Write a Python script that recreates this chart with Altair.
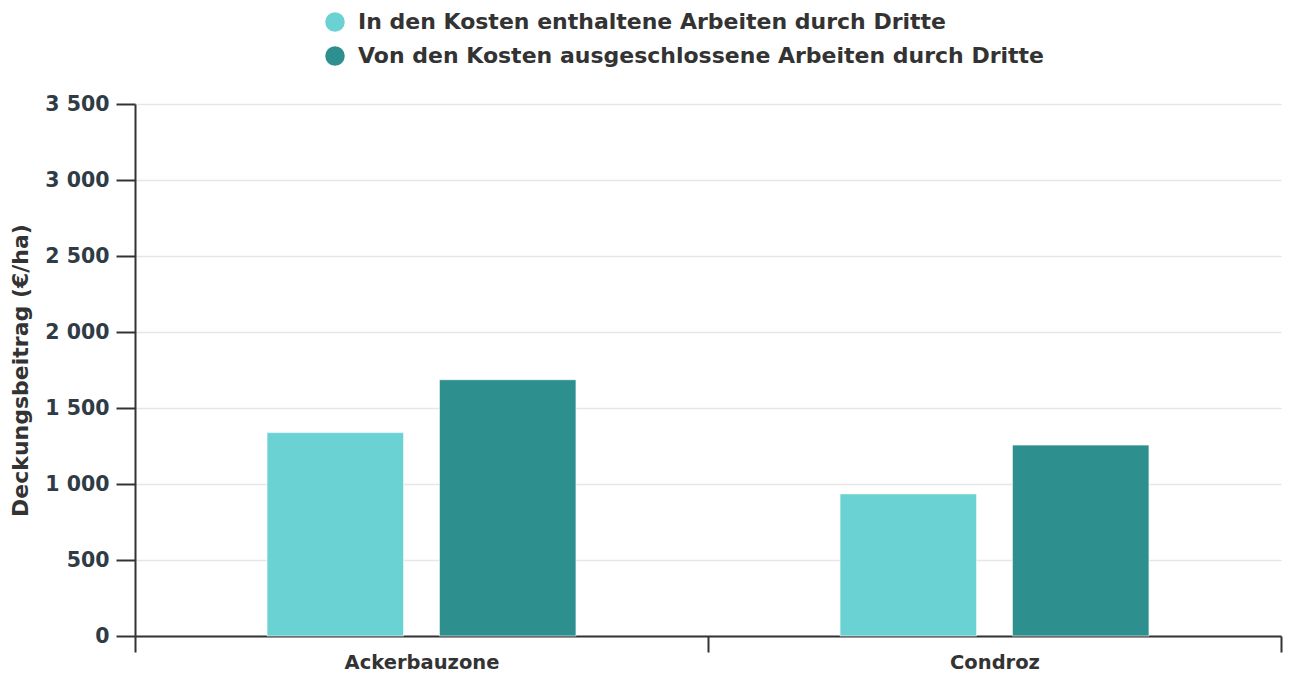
import altair as alt
import pandas as pd

categories = ["Ackerbauzone", "Condroz"]
series = ["In den Kosten enthaltene Arbeiten durch Dritte",
          "Von den Kosten ausgeschlossene Arbeiten durch Dritte"]
values_included = [1338, 935]
values_excluded = [1686, 1256]
colors = ["#6AD2D2", "#2E8F8F"]

rows = []
for i, c in enumerate(categories):
    rows.append({"Region": c, "Serie": series[0], "Wert": values_included[i]})
    rows.append({"Region": c, "Serie": series[1], "Wert": values_excluded[i]})
df = pd.DataFrame(rows)

FONT = "DejaVu Sans"
TXT = "#333333"

chart = alt.Chart(df).mark_bar(stroke="white", strokeWidth=1, strokeOpacity=0.6).encode(
    x=alt.X("Region:N", sort=categories, title=None,
            scale=alt.Scale(paddingInner=0, paddingOuter=0),
            axis=alt.Axis(labelAngle=0, tickBand="extent", tickSize=16, tickWidth=2,
                          tickColor=TXT, domainColor=TXT, domainWidth=2,
                          labelFont=FONT, labelFontSize=19.5, labelFontWeight="bold",
                          labelColor=TXT, labelPadding=1, grid=False)),
    xOffset=alt.XOffset("Serie:N", sort=series,
                        scale=alt.Scale(paddingInner=0.208, paddingOuter=0.766)),
    y=alt.Y("Wert:Q", title="Deckungsbeitrag (€/ha)",
            scale=alt.Scale(domain=[0, 3500], nice=False),
            axis=alt.Axis(values=[0, 500, 1000, 1500, 2000, 2500, 3000, 3500],
                          labelExpr="replace(format(datum.value, ','), ',', ' ')",
                          tickSize=19, tickWidth=2, tickColor=TXT, domainColor=TXT,
                          domainWidth=2, labelFont=FONT, labelFontSize=20.5,
                          labelFontWeight="bold", labelColor="#2f3b45", labelPadding=7,
                          titleFont=FONT, titleFontSize=22, titleFontWeight="bold",
                          titleColor=TXT, titlePadding=12,
                          grid=True, gridColor="#e6e6e6", gridWidth=1.5)),
    color=alt.Color("Serie:N", sort=series,
                    scale=alt.Scale(domain=series, range=colors),
                    legend=alt.Legend(title=None, orient="none", legendX=189, legendY=-93,
                                      direction="vertical", symbolType="circle",
                                      symbolSize=380, symbolStrokeWidth=0,
                                      labelFont=FONT, labelFontSize=22, labelLimit=0,
                                      labelFontWeight="bold", labelColor=TXT,
                                      rowPadding=12, labelOffset=12, padding=0)),
).properties(
    width=1146, height=532,
    autosize=alt.AutoSizeParams(type="none"),
    padding={"left": 127, "top": 96, "right": 2, "bottom": 37},
).configure_view(stroke=None)

chart.save("out.html", embed_options={"renderer": "svg", "actions": False})
